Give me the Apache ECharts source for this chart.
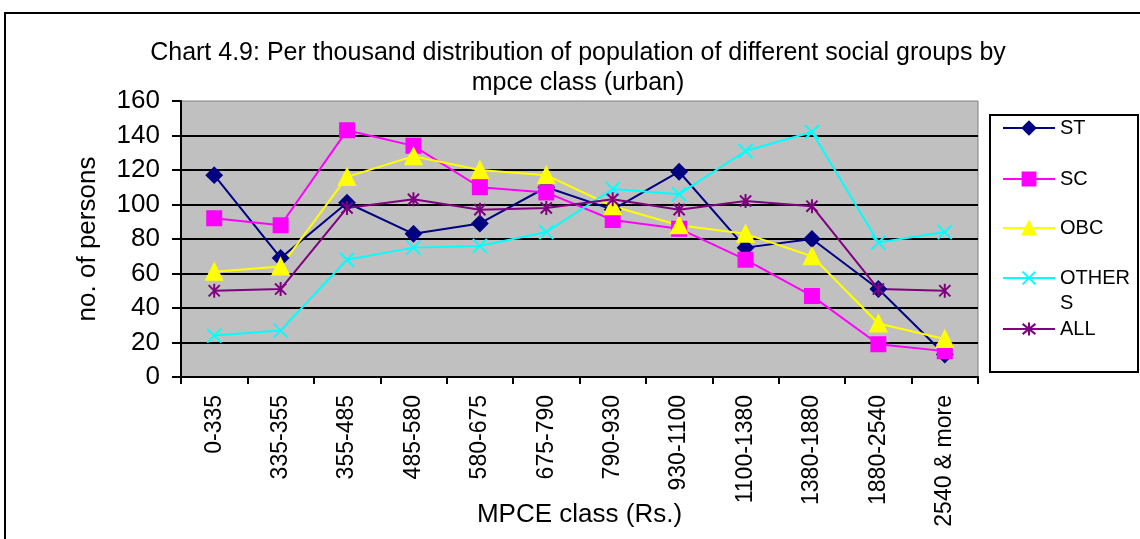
<!DOCTYPE html>
<html>
<head>
<meta charset="utf-8">
<script src="https://cdn.jsdelivr.net/npm/echarts@6/dist/echarts.min.js"></script>
<style>
  html, body { margin: 0; padding: 0; background: #fff; }
  #chart { width: 1140px; height: 539px; }
</style>
</head>
<body>
<div id="chart"></div>
<script>
  // MPCE classes (x axis)
  const categories = ['0-335', '335-355', '355-485', '485-580', '580-675', '675-790',
    '790-930', '930-1100', '1100-1380', '1380-1880', '1880-2540', '2540 & more'];
  // per thousand values
  const ST = [117, 69, 101, 83, 89, 110, 97, 119, 75, 80, 51, 13];
  const SC = [92, 88, 143, 134, 110, 107, 91, 86, 68, 47, 19, 15];
  const OBC = [61, 64, 116, 128, 120, 117, 99, 88, 83, 70, 31, 22];
  const OTHERS = [24, 27, 68, 75, 76, 84, 109, 106, 131, 142, 78, 84];
  const ALL = [50, 51, 98, 103, 97, 98, 103, 97, 102, 99, 51, 50];

  const FONT = 'Liberation Sans, Arial, sans-serif';

  // marker shapes of the original (x and asterisk are drawn as strokes)
  const crossPath = 'path://M0,0L20,20M20,0L0,20';
  const starPath = 'path://M2,2L18,18M18,2L2,18M10,0L10,20';

  const groups = [
    { name: 'ST', data: ST, color: '#000080', symbol: 'diamond', size: 15 },
    { name: 'SC', data: SC, color: '#FF00FF', symbol: 'rect', size: 14 },
    { name: 'OBC', data: OBC, color: '#FFFF00', symbol: 'triangle', size: 16 },
    { name: 'OTHERS', data: OTHERS, color: '#00FFFF', symbol: crossPath, size: 14 },
    { name: 'ALL', data: ALL, color: '#800080', symbol: starPath, size: 14 }
  ];
  // legend rows (y of each entry's line)
  const legendRows = [128, 179, 228, 278, 329];

  const series = groups.map(function (g) {
    return {
      name: g.name,
      type: 'line',
      data: g.data,
      symbol: g.symbol,
      symbolSize: g.size,
      symbolKeepAspect: true,
      lineStyle: { color: g.color, width: 2 },
      itemStyle: { color: g.color, borderColor: g.color, borderWidth: 2 },
      emphasis: { disabled: true }
    };
  });

  // one legend box per entry so each row sits where the original has it
  const legends = groups.map(function (g, i) {
    const twoLines = g.name === 'OTHERS';
    return {
      data: [g.name],
      left: 1002,
      top: legendRows[i] - (twoLines ? 37.5 : 12.5),
      itemWidth: 52,
      itemHeight: 16,
      itemGap: 0,
      padding: 0,
      selectedMode: false,
      // the original wraps OTHERS inside the narrow legend
      formatter: function (n) { return n === 'OTHERS' ? ' \nOTHER\nS' : n; },
      textStyle: { fontFamily: FONT, fontSize: 20, color: '#000', lineHeight: 25 }
    };
  });

  const option = {
    animation: false,
    backgroundColor: '#fff',
    title: {
      text: 'Chart 4.9: Per thousand distribution of population of different social groups by\nmpce class (urban)',
      left: 573,
      textAlign: 'center',
      top: 33,
      textStyle: { fontFamily: FONT, fontSize: 25, fontWeight: 'normal', color: '#000', lineHeight: 30 }
    },
    legend: legends,
    grid: {
      left: 181, top: 101, width: 797, height: 276,
      containLabel: false, outerBoundsMode: 'none',
      show: true, backgroundColor: '#C0C0C0', borderColor: '#808080', borderWidth: 1
    },
    xAxis: {
      type: 'category',
      data: categories,
      boundaryGap: true,
      name: 'MPCE class (Rs.)',
      nameLocation: 'middle',
      nameGap: 125,
      nameMoveOverlap: false,
      nameTextStyle: { fontFamily: FONT, fontSize: 26, color: '#000' },
      axisLine: { lineStyle: { color: '#000', width: 2 } },
      axisTick: { show: true, length: 7, lineStyle: { color: '#000', width: 2 } },
      axisLabel: { rotate: 90, margin: 18, interval: 0, fontFamily: FONT, fontSize: 23, color: '#000' },
      splitLine: { show: false }
    },
    yAxis: {
      type: 'value',
      min: 0,
      max: 160,
      interval: 20,
      name: 'no. of persons',
      nameLocation: 'middle',
      nameGap: 80,
      nameMoveOverlap: false,
      nameTextStyle: { fontFamily: FONT, fontSize: 26, color: '#000' },
      axisLine: { show: true, lineStyle: { color: '#000', width: 2 } },
      axisTick: { show: true, length: 9, lineStyle: { color: '#000', width: 2 } },
      axisLabel: { margin: 21, fontFamily: FONT, fontSize: 26, color: '#000' },
      splitLine: { show: true, showMaxLine: false, lineStyle: { color: '#000', width: 2 } }
    },
    graphic: [
      // outer chart frame
      { type: 'rect', shape: { x: 5, y: 13, width: 1160, height: 600 },
        style: { fill: 'none', stroke: '#000', lineWidth: 2 }, silent: true, z: -1 },
      // legend frame
      { type: 'rect', shape: { x: 990, y: 115, width: 148, height: 257 },
        style: { fill: '#fff', stroke: '#000', lineWidth: 2 }, silent: true, z: -1 }
    ],
    series: series
  };

  const chartObj = echarts.init(document.getElementById('chart'));
  chartObj.setOption(option);
</script>
</body>
</html>
